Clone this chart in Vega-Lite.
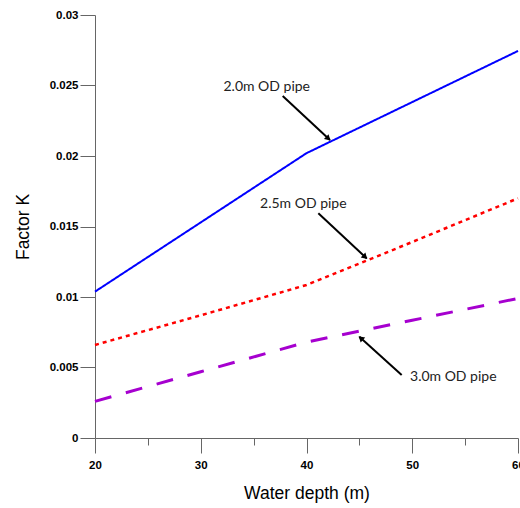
{
  "$schema": "https://vega.github.io/schema/vega-lite/v6.json",
  "width": 423,
  "height": 423,
  "autosize": "none",
  "padding": {"left": 95, "top": 15, "right": 2, "bottom": 70},
  "background": "white",
  "config": {"view": {"stroke": null}, "axis": {"grid": false}},
  "datasets": {
    "lines": [
      {"depth": 20, "k": 0.01038, "pipe": "2.0m OD pipe"},
      {"depth": 40, "k": 0.0202, "pipe": "2.0m OD pipe"},
      {"depth": 60, "k": 0.02745, "pipe": "2.0m OD pipe"},
      {"depth": 20, "k": 0.0066, "pipe": "2.5m OD pipe"},
      {"depth": 30, "k": 0.0087, "pipe": "2.5m OD pipe"},
      {"depth": 40, "k": 0.01085, "pipe": "2.5m OD pipe"},
      {"depth": 50, "k": 0.0139, "pipe": "2.5m OD pipe"},
      {"depth": 60, "k": 0.0170, "pipe": "2.5m OD pipe"},
      {"depth": 20, "k": 0.0026, "pipe": "3.0m OD pipe"},
      {"depth": 30, "k": 0.0047, "pipe": "3.0m OD pipe"},
      {"depth": 40, "k": 0.0068, "pipe": "3.0m OD pipe"},
      {"depth": 50, "k": 0.00835, "pipe": "3.0m OD pipe"},
      {"depth": 60, "k": 0.0099, "pipe": "3.0m OD pipe"}
    ],
    "arrows": [
      {"depth": 37.75, "k": 0.02426, "depth2": 42.22, "k2": 0.02113},
      {"depth": 41.12, "k": 0.01594, "depth2": 45.69, "k2": 0.01274},
      {"depth": 49.0, "k": 0.00447, "depth2": 45.0, "k2": 0.00718}
    ],
    "headsDown": [
      {"depth": 42.0, "k": 0.02128},
      {"depth": 45.48, "k": 0.01289}
    ],
    "headsUp": [
      {"depth": 45.2, "k": 0.00704}
    ],
    "labels": [
      {"depth": 36.24, "k": 0.02491, "label": "2.0m OD pipe"},
      {"depth": 39.7, "k": 0.0166, "label": "2.5m OD pipe"},
      {"depth": 53.88, "k": 0.00435, "label": "3.0m OD pipe"}
    ]
  },
  "layer": [
    {
      "data": {"name": "lines"},
      "mark": {"type": "line", "strokeCap": "butt"},
      "encoding": {
        "x": {
          "field": "depth", "type": "quantitative",
          "scale": {"domain": [20, 60], "nice": false, "zero": false},
          "axis": {
            "title": "Water depth (m)",
            "values": [20, 25, 30, 35, 40, 45, 50, 55, 60],
            "labelExpr": "datum.value % 10 == 0 ? datum.label : ''",
            "tickSize": {"condition": {"test": "datum.value % 10 == 0", "value": 15}, "value": 7},
            "labelFlush": false,
            "labelOverlap": false,
            "labelFont": "Liberation Sans",
            "labelFontWeight": "bold",
            "labelFontSize": 11.5,
            "labelPadding": 6,
            "labelColor": "#000",
            "titleFont": "Liberation Sans",
            "titleFontSize": 17.5,
            "titleFontWeight": "normal",
            "titleColor": "#000",
            "titlePadding": 14,
            "domainColor": "#666",
            "tickColor": "#666"
          }
        },
        "y": {
          "field": "k", "type": "quantitative",
          "scale": {"domain": [0, 0.03], "nice": false},
          "axis": {
            "title": "Factor K",
            "values": [0, 0.0025, 0.005, 0.0075, 0.01, 0.0125, 0.015, 0.0175, 0.02, 0.0225, 0.025, 0.0275, 0.03],
            "labelExpr": "round(datum.value * 10000) % 50 == 0 ? format(datum.value, '~g') : ''",
            "tickSize": {"condition": {"test": "round(datum.value * 10000) % 50 == 0", "value": 15}, "value": 8},
            "labelOverlap": false,
            "labelFont": "Liberation Sans",
            "labelFontWeight": "bold",
            "labelFontSize": 11.5,
            "labelPadding": 2,
            "labelColor": "#000",
            "titleFont": "Liberation Sans",
            "titleFontSize": 17.5,
            "titleFontWeight": "normal",
            "titleColor": "#000",
            "titlePadding": 17,
            "domainColor": "#666",
            "tickColor": "#666"
          }
        },
        "color": {
          "field": "pipe", "type": "nominal", "legend": null,
          "scale": {"domain": ["2.0m OD pipe", "2.5m OD pipe", "3.0m OD pipe"], "range": ["#0000FF", "#FF0000", "#A600CF"]}
        },
        "strokeDash": {
          "field": "pipe", "type": "nominal", "legend": null,
          "scale": {"domain": ["2.0m OD pipe", "2.5m OD pipe", "3.0m OD pipe"], "range": [[1, 0], [4, 4], [17, 15]]}
        },
        "size": {
          "field": "pipe", "type": "nominal", "legend": null,
          "scale": {"domain": ["2.0m OD pipe", "2.5m OD pipe", "3.0m OD pipe"], "range": [2, 3, 3]}
        }
      }
    },
    {
      "data": {"name": "arrows"},
      "mark": {"type": "rule", "color": "#000", "strokeWidth": 2},
      "encoding": {
        "x": {"field": "depth", "type": "quantitative"},
        "y": {"field": "k", "type": "quantitative"},
        "x2": {"field": "depth2"},
        "y2": {"field": "k2"}
      }
    },
    {
      "data": {"name": "headsDown"},
      "mark": {"type": "point", "shape": "triangle", "filled": true, "color": "#000", "opacity": 1, "size": 45, "angle": 133},
      "encoding": {
        "x": {"field": "depth", "type": "quantitative"},
        "y": {"field": "k", "type": "quantitative"}
      }
    },
    {
      "data": {"name": "headsUp"},
      "mark": {"type": "point", "shape": "triangle", "filled": true, "color": "#000", "opacity": 1, "size": 45, "angle": 312},
      "encoding": {
        "x": {"field": "depth", "type": "quantitative"},
        "y": {"field": "k", "type": "quantitative"}
      }
    },
    {
      "data": {"name": "labels"},
      "mark": {"type": "text", "font": "Lato", "fontSize": 14, "color": "#222", "align": "center", "baseline": "middle"},
      "encoding": {
        "x": {"field": "depth", "type": "quantitative"},
        "y": {"field": "k", "type": "quantitative"},
        "text": {"field": "label"}
      }
    }
  ]
}
